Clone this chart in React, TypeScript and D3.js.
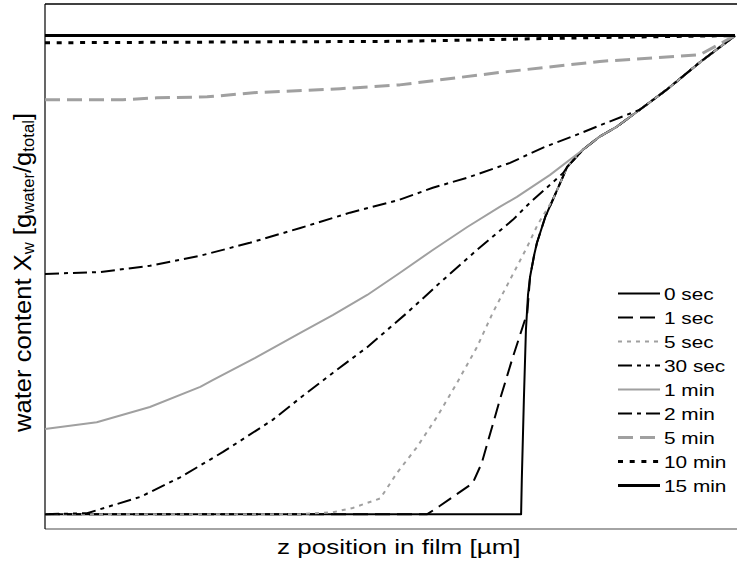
import React from 'react';
import * as d3 from 'd3';

// z position in film (normalised 0..1) and water content (normalised 0..1)
const seriesNames = ['0 sec', '1 sec', '5 sec', '30 sec', '1 min', '2 min', '5 min', '10 min', '15 min'];

const profile0s: [number, number][] = [
  [0, 0], [0.690, 0], [0.691, 0.071], [0.694, 0.238], [0.697, 0.385], [0.700, 0.458], [0.703, 0.496],
  [0.709, 0.542], [0.713, 0.567], [0.725, 0.621], [0.736, 0.657], [0.757, 0.726], [0.780, 0.762],
  [0.804, 0.789], [0.829, 0.810], [0.862, 0.845], [0.901, 0.887], [0.949, 0.944], [1, 1],
];
const profile1s: [number, number][] = [
  [0, 0], [0.554, 0], [0.572, 0.017], [0.620, 0.065], [0.633, 0.107], [0.659, 0.238], [0.678, 0.328],
  [0.699, 0.421], [0.703, 0.496], [0.709, 0.542], [0.713, 0.567], [0.725, 0.621], [0.736, 0.657],
  [0.757, 0.726], [0.780, 0.762], [0.804, 0.789], [0.829, 0.810], [0.862, 0.845], [0.901, 0.887],
  [0.949, 0.944], [1, 1],
];
const profile5s: [number, number][] = [
  [0, 0], [0.370, 0], [0.417, 0.004], [0.446, 0.013], [0.486, 0.033], [0.510, 0.086], [0.539, 0.140],
  [0.568, 0.203], [0.597, 0.274], [0.626, 0.349], [0.649, 0.421], [0.674, 0.490], [0.699, 0.559],
  [0.714, 0.605], [0.736, 0.657], [0.757, 0.726], [0.780, 0.762], [0.804, 0.789], [0.829, 0.810],
  [0.862, 0.845], [0.901, 0.887], [0.949, 0.944], [1, 1],
];
const profile30s: [number, number][] = [
  [0, 0], [0.061, 0.002], [0.138, 0.036], [0.196, 0.077], [0.258, 0.130], [0.330, 0.197], [0.370, 0.243],
  [0.417, 0.295], [0.467, 0.349], [0.525, 0.421], [0.572, 0.483], [0.626, 0.552], [0.678, 0.615],
  [0.703, 0.651], [0.751, 0.713], [0.757, 0.726], [0.780, 0.762], [0.804, 0.789], [0.829, 0.810],
  [0.862, 0.845], [0.901, 0.887], [0.949, 0.944], [1, 1],
];
const profile1min: [number, number][] = [
  [0, 0.178], [0.075, 0.192], [0.152, 0.224], [0.225, 0.266], [0.243, 0.280], [0.304, 0.326], [0.370, 0.379],
  [0.417, 0.416], [0.467, 0.458], [0.514, 0.504], [0.562, 0.552], [0.612, 0.600], [0.659, 0.642],
  [0.684, 0.663], [0.732, 0.709], [0.780, 0.762], [0.804, 0.789], [0.829, 0.810], [0.862, 0.845],
  [0.901, 0.887], [0.949, 0.944], [1, 1],
];
const profile2min: [number, number][] = [
  [0, 0.502], [0.080, 0.506], [0.152, 0.519], [0.225, 0.540], [0.297, 0.567], [0.370, 0.598], [0.442, 0.630],
  [0.514, 0.657], [0.562, 0.682], [0.612, 0.703], [0.674, 0.734], [0.722, 0.766], [0.771, 0.793],
  [0.814, 0.818], [0.862, 0.845], [0.901, 0.887], [0.949, 0.944], [1, 1],
];
const profile5min: [number, number][] = [
  [0, 0.866], [0.113, 0.866], [0.162, 0.870], [0.235, 0.872], [0.307, 0.881], [0.428, 0.889], [0.514, 0.897],
  [0.659, 0.923], [0.804, 0.946], [0.949, 0.960], [1, 1],
];
const profile10min: [number, number][] = [
  [0, 0.985], [0.341, 0.987], [0.514, 0.988], [0.804, 0.996], [0.949, 0.999], [1, 1],
];
const profile15min: [number, number][] = [
  [0, 1], [0.25, 1], [0.5, 1], [0.75, 1], [1, 1],
];

const profiles = [profile0s, profile1s, profile5s, profile30s, profile1min, profile2min, profile5min, profile10min, profile15min];

const GREY = '#a0a0a0';
const styles = [
  { color: '#000', width: 2, dash: '' },
  { color: '#000', width: 2, dash: '15 7' },
  { color: GREY, width: 2, dash: '4 5' },
  { color: '#000', width: 2, dash: '14 5 4 5 4 5' },
  { color: GREY, width: 2, dash: '' },
  { color: '#000', width: 2, dash: '14 5 4 5' },
  { color: GREY, width: 3, dash: '15 7' },
  { color: '#000', width: 3, dash: '5 6.7' },
  { color: '#000', width: 3, dash: '' },
];

const W = 737;
const H = 565;
const left = 45;
const right = 735;
const top = 4;
const bottom = 529;
const FONT = '"Liberation Sans", Arial, sans-serif';

export default function App() {
  const x = d3.scaleLinear().domain([0, 1]).range([left, right]);
  const y = d3.scaleLinear().domain([-0.031, 1.066]).range([bottom, top]);
  const line = d3
    .line<[number, number]>()
    .x((d) => x(d[0]))
    .y((d) => y(d[1]))
    .curve(d3.curveLinear);

  const legendY0 = 293.5;
  const legendStep = 24;

  return (
    <svg
      width={W}
      height={H}
      style={{ position: 'absolute', left: 0, top: 0, background: '#fff' }}
      fontFamily={FONT}
    >
      <rect x={0} y={0} width={W} height={H} fill="#fff" />
      {/* frame */}
      <line x1={left} x2={W} y1={top} y2={top} stroke="#000" strokeWidth={1.5} />
      <line x1={left} x2={W} y1={bottom} y2={bottom} stroke="#868686" strokeWidth={1.5} />
      <line x1={left} x2={left} y1={top} y2={bottom} stroke="#000" strokeWidth={1.2} />

      {profiles.map((p, i) => (
        <path
          key={i}
          d={line(p) || ''}
          fill="none"
          stroke={styles[i].color}
          strokeWidth={styles[i].width}
          strokeDasharray={styles[i].dash || undefined}
          strokeLinejoin="round"
        />
      ))}

      {seriesNames.map((name, i) => {
        const cy = legendY0 + i * legendStep;
        return (
          <g key={name}>
            <line
              x1={618}
              x2={660}
              y1={cy}
              y2={cy}
              stroke={styles[i].color}
              strokeWidth={styles[i].width}
              strokeDasharray={styles[i].dash || undefined}
            />
            <text transform={`translate(664,${cy + 6}) scale(1.3,1)`} fontSize={16} fill="#000">
              {name}
            </text>
          </g>
        );
      })}

      <text
        transform={`translate(277,554) scale(1.35,1)`}
        fontSize={19.3}
        fill="#000"
      >
        z position in film [µm]
      </text>

      <g transform="translate(31,272.5) rotate(-90) scale(1,1.08)">
        <text
          fontSize={23}
          textAnchor="middle"
          textLength={319}
          lengthAdjust="spacingAndGlyphs"
          fill="#000"
        >
          water content X
          <tspan fontSize={15} dy={3}>w</tspan>
          <tspan dy={-3}> [g</tspan>
          <tspan fontSize={15} dy={3}>water</tspan>
          <tspan dy={-3}>/g</tspan>
          <tspan fontSize={15} dy={3}>total</tspan>
          <tspan dy={-3}>]</tspan>
        </text>
      </g>
    </svg>
  );
}
